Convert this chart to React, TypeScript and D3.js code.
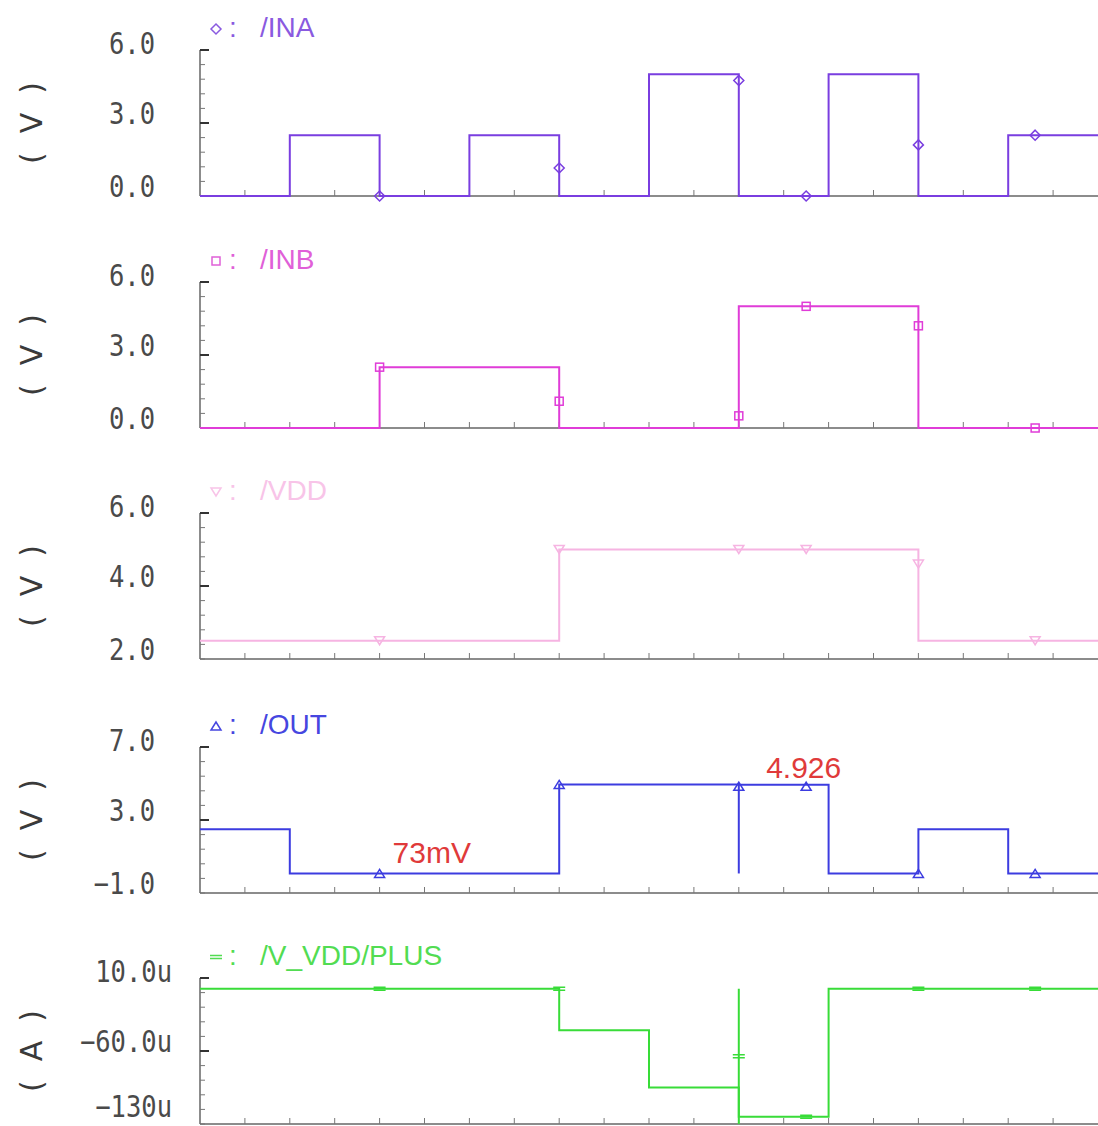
import React, { useRef, useEffect } from 'react';
import * as d3 from 'd3';

const WIDTH = 1098;
const HEIGHT = 1126;
const X0 = 200;
const PANEL_H = 146;

// time axis (ns), one segment every 10 ns
const EDGES = [0, 10, 20, 30, 40, 50, 60, 70, 80, 90, 100];
const MARK_T = [20, 40, 60, 67.5, 80, 93];

const INA = [0, 2.5, 0, 2.5, 0, 5, 0, 5, 0, 2.5];
const INB = [0, 0, 2.5, 2.5, 0, 0, 5, 5, 0, 0];
const VDD = [2.5, 2.5, 2.5, 2.5, 5, 5, 5, 5, 2.5, 2.5];
const OUT = [2.5, 0.07, 0.07, 0.07, 4.95, 4.95, 4.93, 0.07, 2.5, 0.07];
const IVDD = [-0.3, -0.3, -0.3, -0.3, -40, -95, -123, -0.3, -0.3, -0.3];

const INA_MARK = [0, 1.15, 4.75, 0, 2.1, 2.5];
const INB_MARK = [2.5, 1.1, 0.5, 5, 4.2, 0];
const VDD_MARK = [2.5, 5, 5, 5, 4.6, 2.5];
const OUT_MARK = [0.07, 4.95, 4.85, 4.85, 0.07, 0.07];
const IVDD_MARK = [-0.3, -0.3, -65, -123, -0.3, -0.3];

// vertical glitch at t=60: [t, from, to]
const OUT_GLITCH = [60, 0.07, 4.95];
const IVDD_GLITCH = [60, -130, -0.3];

type Panel = {
  name: string;
  marker: 'diamond' | 'square' | 'down' | 'up' | 'dash';
  color: string;
  legendColor: string;
  unit: string;
  domain: [number, number];
  ticks: string[];
  levels: number[];
  marks: number[];
  glitch?: number[];
  top: number;
  labelRight: number;
};

const PANELS: Panel[] = [
  { name: '/INA', marker: 'diamond', color: '#7a3ee0', legendColor: '#8a5ae0', unit: 'V', domain: [0, 6], ticks: ['6.0', '3.0', '0.0'], levels: INA, marks: INA_MARK, top: 50, labelRight: 155 },
  { name: '/INB', marker: 'square', color: '#e03cd8', legendColor: '#e060d8', unit: 'V', domain: [0, 6], ticks: ['6.0', '3.0', '0.0'], levels: INB, marks: INB_MARK, top: 282, labelRight: 155 },
  { name: '/VDD', marker: 'down', color: '#f6b4e2', legendColor: '#f8c4e8', unit: 'V', domain: [2, 6], ticks: ['6.0', '4.0', '2.0'], levels: VDD, marks: VDD_MARK, top: 513, labelRight: 155 },
  { name: '/OUT', marker: 'up', color: '#3c3ce0', legendColor: '#4646e0', unit: 'V', domain: [-1, 7], ticks: ['7.0', '3.0', '\u22121.0'], levels: OUT, marks: OUT_MARK, glitch: OUT_GLITCH, top: 747, labelRight: 155 },
  { name: '/V_VDD/PLUS', marker: 'dash', color: '#38dc38', legendColor: '#52dc52', unit: 'A', domain: [-130, 10], ticks: ['10.0u', '\u221260.0u', '\u2212130u'], levels: IVDD, marks: IVDD_MARK, glitch: IVDD_GLITCH, top: 978, labelRight: 172 },
];

const ANNOTATIONS = [
  { panel: 3, t: 20, v: 0.07, text: '73mV', dx: 13, dy: -10 },
  { panel: 3, t: 67.5, v: 4.85, text: '4.926', dx: -40, dy: -8 },
];

const drawMarker = (g: d3.Selection<SVGGElement, unknown, null, undefined>, kind: string, x: number, y: number, color: string) => {
  if (kind === 'diamond') {
    g.append('path').attr('d', `M${x},${y - 5}L${x + 5},${y}L${x},${y + 5}L${x - 5},${y}Z`).attr('fill', 'none').attr('stroke', color).attr('stroke-width', 1.5);
  } else if (kind === 'square') {
    g.append('rect').attr('x', x - 4).attr('y', y - 4).attr('width', 8).attr('height', 8).attr('fill', 'none').attr('stroke', color).attr('stroke-width', 1.5);
  } else if (kind === 'down') {
    g.append('path').attr('d', `M${x - 5},${y - 4}L${x + 5},${y - 4}L${x},${y + 4}Z`).attr('fill', 'none').attr('stroke', color).attr('stroke-width', 1.5);
  } else if (kind === 'up') {
    g.append('path').attr('d', `M${x - 5},${y + 4}L${x + 5},${y + 4}L${x},${y - 4}Z`).attr('fill', 'none').attr('stroke', color).attr('stroke-width', 1.5);
  } else {
    g.append('path').attr('d', `M${x - 6},${y - 1.5}H${x + 6}M${x - 6},${y + 1.5}H${x + 6}`).attr('stroke', color).attr('stroke-width', 1.5);
  }
};

const App: React.FC = () => {
  const svgRef = useRef<SVGSVGElement>(null);

  useEffect(() => {
    if (!svgRef.current) return;
    const svg = d3.select(svgRef.current);
    svg.selectAll('*').remove();

    const x = d3.scaleLinear().domain([0, 100]).range([X0, WIDTH]);

    PANELS.forEach((p, pi) => {
      const g = svg.append('g');
      const y = d3.scaleLinear().domain(p.domain).range([p.top + PANEL_H, p.top]);
      const bottom = p.top + PANEL_H;

      // axes
      g.append('line').attr('x1', X0).attr('x2', X0).attr('y1', p.top).attr('y2', bottom).attr('stroke', '#666').attr('stroke-width', 1.5);
      g.append('line').attr('x1', X0).attr('x2', WIDTH).attr('y1', bottom).attr('y2', bottom).attr('stroke', '#666').attr('stroke-width', 1.5);

      const [d0, d1] = p.domain;
      for (let i = 0; i <= 10; i++) {
        const v = d0 + ((d1 - d0) * i) / 10;
        const major = i === 5 || i === 10;
        g.append('line').attr('x1', X0).attr('x2', X0 + (major ? 9 : 5)).attr('y1', y(v)).attr('y2', y(v))
          .attr('stroke', major ? '#333' : '#777').attr('stroke-width', major ? 2 : 1);
      }
      for (let t = 5; t < 100; t += 5) {
        g.append('line').attr('x1', x(t)).attr('x2', x(t)).attr('y1', bottom).attr('y2', bottom - 6).attr('stroke', '#777').attr('stroke-width', 1);
      }

      // tick labels
      const tickVals = [d1, (d0 + d1) / 2, d0];
      p.ticks.forEach((label, i) => {
        let ty = y(tickVals[i]) + (i === 0 ? 4 : 1);
        if (ty > HEIGHT - 9) ty = HEIGHT - 9;
        g.append('text')
          .attr('transform', `translate(${p.labelRight},${ty}) scale(0.85,1)`)
          .attr('text-anchor', 'end')
          .attr('font-family', 'DejaVu Sans Mono, monospace')
          .attr('font-size', '30px')
          .attr('fill', '#4a4a4a')
          .text(label);
      });

      // unit label
      g.append('text')
        .attr('transform', `translate(42,${y((d0 + d1) / 2)}) rotate(-90)`)
        .attr('text-anchor', 'middle')
        .attr('font-family', 'DejaVu Sans, sans-serif')
        .attr('font-size', '30px')
        .attr('fill', '#3a3a3a')
        .attr('xml:space', 'preserve')
        .text(`(  ${p.unit}  )`);

      // legend
      const ly = p.top - 13;
      const lg = g.append('g');
      drawMarker(lg, p.marker, 216, ly - 8, p.legendColor);
      lg.append('text').attr('x', 229).attr('y', ly).attr('font-family', 'Liberation Sans, sans-serif').attr('font-size', '28px').attr('fill', p.legendColor).text(':');
      lg.append('text').attr('x', 260).attr('y', ly).attr('font-family', 'Liberation Sans, sans-serif').attr('font-size', '28px').attr('fill', p.legendColor).text(p.name);

      // step trace
      const pts: [number, number][] = p.levels.map((v, i) => [EDGES[i], v]);
      pts.push([EDGES[EDGES.length - 1], p.levels[p.levels.length - 1]]);
      const line = d3.line<[number, number]>().x((d) => x(d[0])).y((d) => y(d[1])).curve(d3.curveStepAfter);
      g.append('path').attr('d', line(pts) ?? '').attr('fill', 'none').attr('stroke', p.color).attr('stroke-width', 2);

      if (p.glitch) {
        const [gt, ga, gb] = p.glitch;
        g.append('line').attr('x1', x(gt)).attr('x2', x(gt)).attr('y1', y(ga)).attr('y2', y(gb)).attr('stroke', p.color).attr('stroke-width', 2);
      }

      // markers
      p.marks.forEach((v, i) => drawMarker(g, p.marker, x(MARK_T[i]), y(v), p.color));

      // annotations
      ANNOTATIONS.filter((a) => a.panel === pi).forEach((a) => {
        g.append('text')
          .attr('x', x(a.t) + a.dx)
          .attr('y', y(a.v) + a.dy)
          .attr('font-family', 'Liberation Sans, sans-serif')
          .attr('font-size', '30px')
          .attr('fill', '#e03a3a')
          .text(a.text);
      });
    });
  }, []);

  return (
    <svg
      ref={svgRef}
      width={WIDTH}
      height={HEIGHT}
      viewBox={`0 0 ${WIDTH} ${HEIGHT}`}
      style={{ position: 'absolute', left: 0, top: 0, background: '#fff' }}
    />
  );
};

export default App;
